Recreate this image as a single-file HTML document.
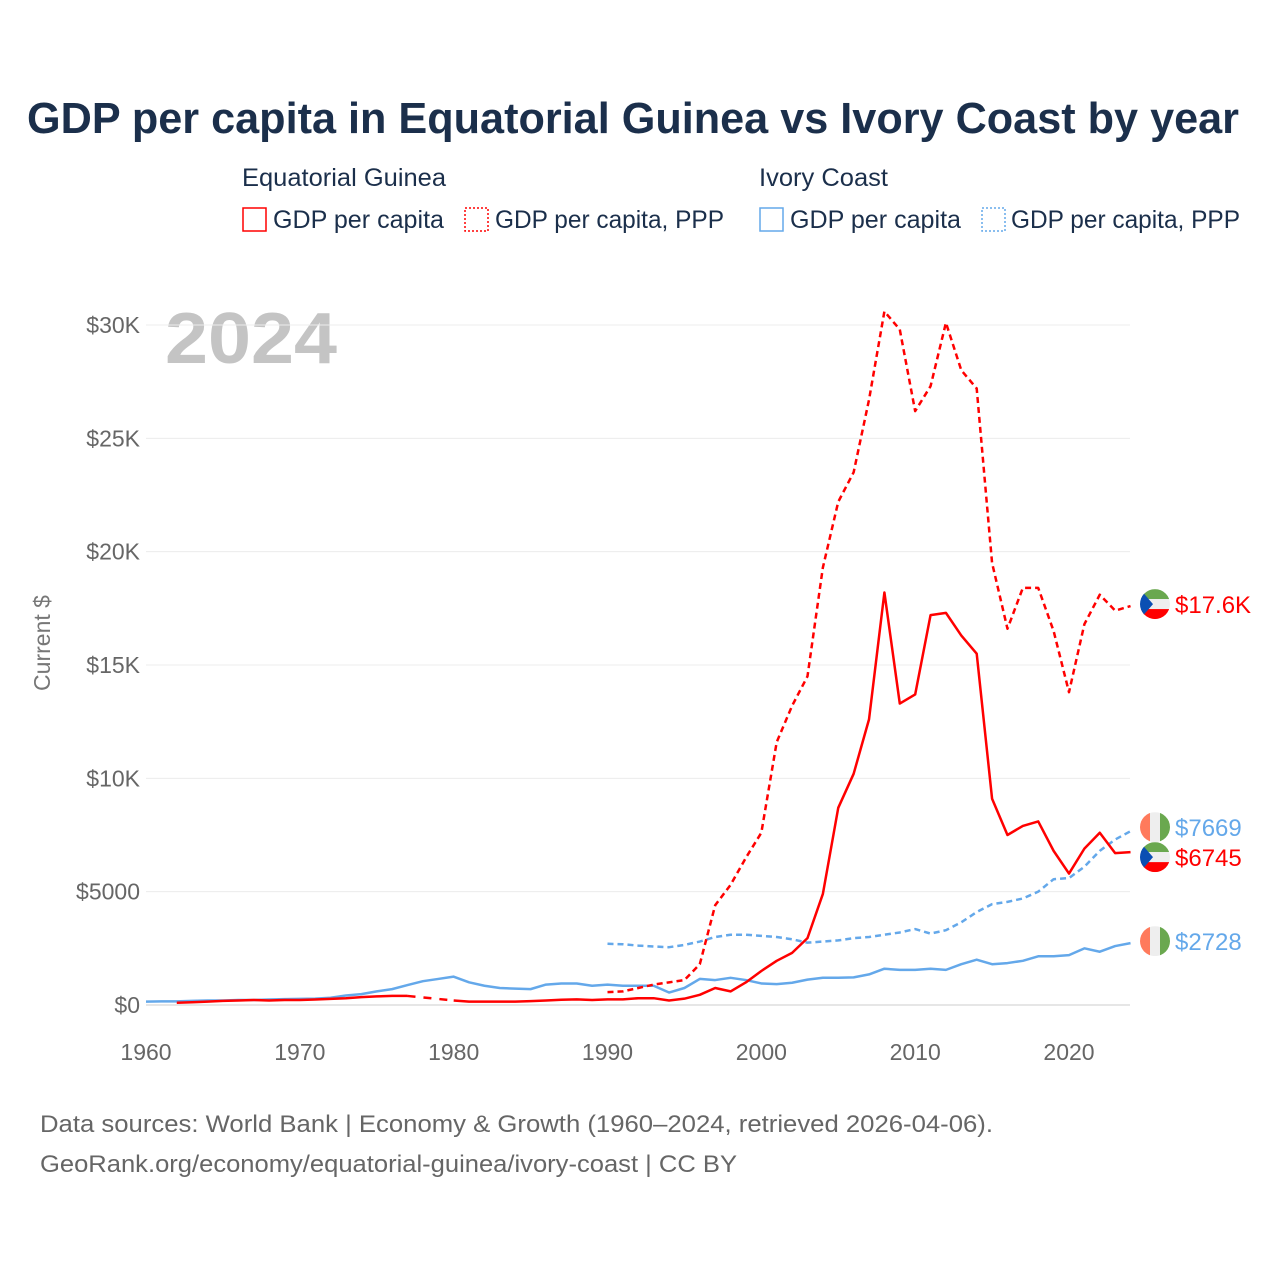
<!DOCTYPE html>
<html><head><meta charset="utf-8"><style>
body{margin:0;background:#fff;font-family:"Liberation Sans",sans-serif}
</style></head><body>
<svg width="1280" height="1280" xmlns="http://www.w3.org/2000/svg" style="font-family:'Liberation Sans',sans-serif">
<text x="27" y="133" textLength="1212" lengthAdjust="spacingAndGlyphs" font-size="44" font-weight="bold" fill="#1b2f4b">GDP per capita in Equatorial Guinea vs Ivory Coast by year</text>
<g font-size="25" fill="#1b2f4b">
<text x="242" y="186" textLength="204" lengthAdjust="spacingAndGlyphs">Equatorial Guinea</text>
<text x="759" y="186" textLength="129" lengthAdjust="spacingAndGlyphs">Ivory Coast</text>
<g><rect x="243" y="208" width="23" height="23" fill="none" stroke="#f00" stroke-width="1.5"/><text x="273" y="228" textLength="171" lengthAdjust="spacingAndGlyphs">GDP per capita</text></g>
<g><rect x="465" y="208" width="23" height="23" fill="none" stroke="#f00" stroke-width="1.5" stroke-dasharray="2,2"/><text x="495" y="228" textLength="229" lengthAdjust="spacingAndGlyphs">GDP per capita, PPP</text></g>
<g><rect x="760" y="208" width="23" height="23" fill="none" stroke="#64a8ea" stroke-width="1.5"/><text x="790" y="228" textLength="171" lengthAdjust="spacingAndGlyphs">GDP per capita</text></g>
<g><rect x="982" y="208" width="23" height="23" fill="none" stroke="#64a8ea" stroke-width="1.5" stroke-dasharray="2,2"/><text x="1011" y="228" textLength="229" lengthAdjust="spacingAndGlyphs">GDP per capita, PPP</text></g>
</g>
<text x="165" y="363" textLength="172" lengthAdjust="spacingAndGlyphs" font-size="72" font-weight="bold" fill="#c4c4c4">2024</text>
<text transform="translate(50,643) rotate(-90)" text-anchor="middle" font-size="23" fill="#777">Current $</text>
<g id="grid"></g><g id="yt"></g><g id="xt"></g><g id="series"></g><g id="ends"></g>
<g font-size="24" fill="#666">
<text x="40" y="1132" textLength="953" lengthAdjust="spacingAndGlyphs">Data sources: World Bank | Economy &amp; Growth (1960–2024, retrieved 2026-04-06).</text>
<text x="40" y="1172" textLength="697" lengthAdjust="spacingAndGlyphs">GeoRank.org/economy/equatorial-guinea/ivory-coast | CC BY</text>
</g>
</svg>
<script>
const yTicks=[0,5000,10000,15000,20000,25000,30000];
const yTickLabels=["$0","$5000","$10K","$15K","$20K","$25K","$30K"];
const xTicks=[1960,1970,1980,1990,2000,2010,2020];
const eqGdpStart=1962;
const eqGdp=[0.1,0.12,0.15,0.18,0.2,0.22,0.2,0.22,0.22,0.24,0.27,0.3,0.35,0.38,0.4,0.4,null,null,0.2,0.15,0.15,0.15,0.15,0.17,0.2,0.23,0.25,0.22,0.25,0.25,0.3,0.3,0.2,0.28,0.45,0.75,0.6,1.0,1.5,1.95,2.3,2.95,4.9,8.7,10.2,12.6,18.2,13.3,13.7,17.2,17.3,16.3,15.5,9.1,7.5,7.9,8.1,6.8,5.8,6.9,7.6,6.7,6.745];
const eqPppStart=1990;
const eqPpp=[0.57,0.6,0.75,0.9,1.0,1.1,1.8,4.4,5.3,6.5,7.6,11.6,13.2,14.5,19.3,22.2,23.5,26.7,30.6,29.8,26.2,27.3,30.1,28.0,27.2,19.5,16.6,18.4,18.4,16.5,13.8,16.8,18.1,17.4,17.6];
const icGdpStart=1960;
const icGdp=[0.15,0.16,0.16,0.18,0.2,0.2,0.22,0.22,0.24,0.26,0.27,0.28,0.32,0.42,0.48,0.6,0.7,0.88,1.05,1.15,1.25,1.0,0.85,0.75,0.72,0.7,0.9,0.95,0.95,0.85,0.9,0.85,0.85,0.85,0.55,0.75,1.15,1.1,1.2,1.1,0.95,0.92,0.98,1.12,1.2,1.2,1.22,1.35,1.6,1.55,1.55,1.6,1.55,1.8,2.0,1.8,1.85,1.95,2.15,2.15,2.2,2.5,2.35,2.6,2.728];
const icPppStart=1990;
const icPpp=[2.7,2.68,2.62,2.58,2.55,2.65,2.8,3.0,3.1,3.1,3.05,3.0,2.9,2.75,2.8,2.85,2.95,3.0,3.1,3.2,3.35,3.15,3.3,3.65,4.1,4.45,4.55,4.7,5.0,5.55,5.6,6.1,6.8,7.3,7.669];
const endLabels=["$17.6K","$6745","$7669","$2728"];

const NS="http://www.w3.org/2000/svg";
const X=y=>146+(y-1960)*(1069-146)/60;
const Y=v=>1005-v*(1005-325)/30000;
function mk(t,a,p){const e=document.createElementNS(NS,t);for(const k in a)e.setAttribute(k,a[k]);p.appendChild(e);return e;}
const grid=document.getElementById('grid'),yt=document.getElementById('yt'),xt=document.getElementById('xt');
yTicks.forEach((v,i)=>{
 const l=mk('line',{x1:146,x2:1130,y1:Y(v),y2:Y(v),stroke:v===0?'#e6e6e6':'#ececec','stroke-width':v===0?2:1},grid);
 
 
 const t=mk('text',{x:140,y:Y(v)+8,'text-anchor':'end','font-size':23,fill:'#666'},yt);t.textContent=yTickLabels[i];
 
 
});
xTicks.forEach(v=>{
 const t=mk('text',{x:X(v),y:1060,'text-anchor':'middle','font-size':23,fill:'#666'},xt);t.textContent=v;
 
 
});
const ser=document.getElementById('series');
function draw(start,vals,color,dash,name){
 const g=mk('g',{},ser);
 
 
 let segs=[],cur=[],last=null;
 vals.forEach((v,i)=>{
  if(v==null){if(cur.length){segs.push(cur);cur=[];}return;}
  const p=[X(start+i),Y(v*1000)];
  if(!cur.length&&last&&last.gap){mk('path',{d:`M${last.p[0]},${last.p[1]}L${p[0]},${p[1]}`,fill:'none',stroke:color,'stroke-width':2.5,'stroke-dasharray':'8,8'},g);}
  cur.push(p);last={p,gap:false};
  if(i+1<vals.length&&vals[i+1]==null)last.gap=true;
 });
 if(cur.length)segs.push(cur);
 segs.forEach(s=>{const a={d:'M'+s.map(p=>p.join(',')).join('L'),fill:'none',stroke:color,'stroke-width':2.5,'stroke-linejoin':'round'};if(dash)a['stroke-dasharray']=dash;mk('path',a,g);});
}
draw(icPppStart,icPpp,'#64a8ea','6,4','line-ic-ppp');
draw(icGdpStart,icGdp,'#64a8ea',null,'line-ic-gdp');
draw(eqPppStart,eqPpp,'#f00','6,4','line-eq-ppp');
draw(eqGdpStart,eqGdp,'#f00',null,'line-eq-gdp');
const ends=document.getElementById('ends');
function flagEq(cy){const g=mk('g',{},ends);
 
 
 const id='c'+Math.round(cy);mk('clipPath',{id},g);mk('circle',{cx:1155,cy,r:15},g.lastChild);
 const h=mk('g',{'clip-path':`url(#${id})`},g);
 mk('rect',{x:1140,y:cy-15,width:30,height:10,fill:'#6aa84f'},h);mk('rect',{x:1140,y:cy-5,width:30,height:10,fill:'#eee'},h);mk('rect',{x:1140,y:cy+5,width:30,height:10,fill:'#f00'},h);
 mk('polygon',{points:`1140,${cy-15} 1153,${cy} 1140,${cy+15}`,fill:'#0b4fb3'},h);}
function flagIc(cy){const g=mk('g',{},ends);
 
 
 const id='d'+Math.round(cy);mk('clipPath',{id},g);mk('circle',{cx:1155,cy,r:15},g.lastChild);
 const h=mk('g',{'clip-path':`url(#${id})`},g);
 mk('rect',{x:1140,y:cy-15,width:10,height:30,fill:'#ff7a5c'},h);mk('rect',{x:1150,y:cy-15,width:10,height:30,fill:'#eee'},h);mk('rect',{x:1160,y:cy-15,width:10,height:30,fill:'#6aa84f'},h);}
const ys=[Y(eqPpp[eqPpp.length-1]*1000)-2,Y(eqGdp[eqGdp.length-1]*1000)+5,Y(icPpp[icPpp.length-1]*1000)-4,Y(icGdp[icGdp.length-1]*1000)-2];
const cols=['#f00','#f00','#64a8ea','#64a8ea'];
ys.forEach((cy,i)=>{
 if(i<2)flagEq(cy);else flagIc(cy);
 const t=mk('text',{x:1175,y:cy+9,'font-size':24,fill:cols[i]},ends);t.textContent=endLabels[i];
 
 
});
</script>
</body></html>
